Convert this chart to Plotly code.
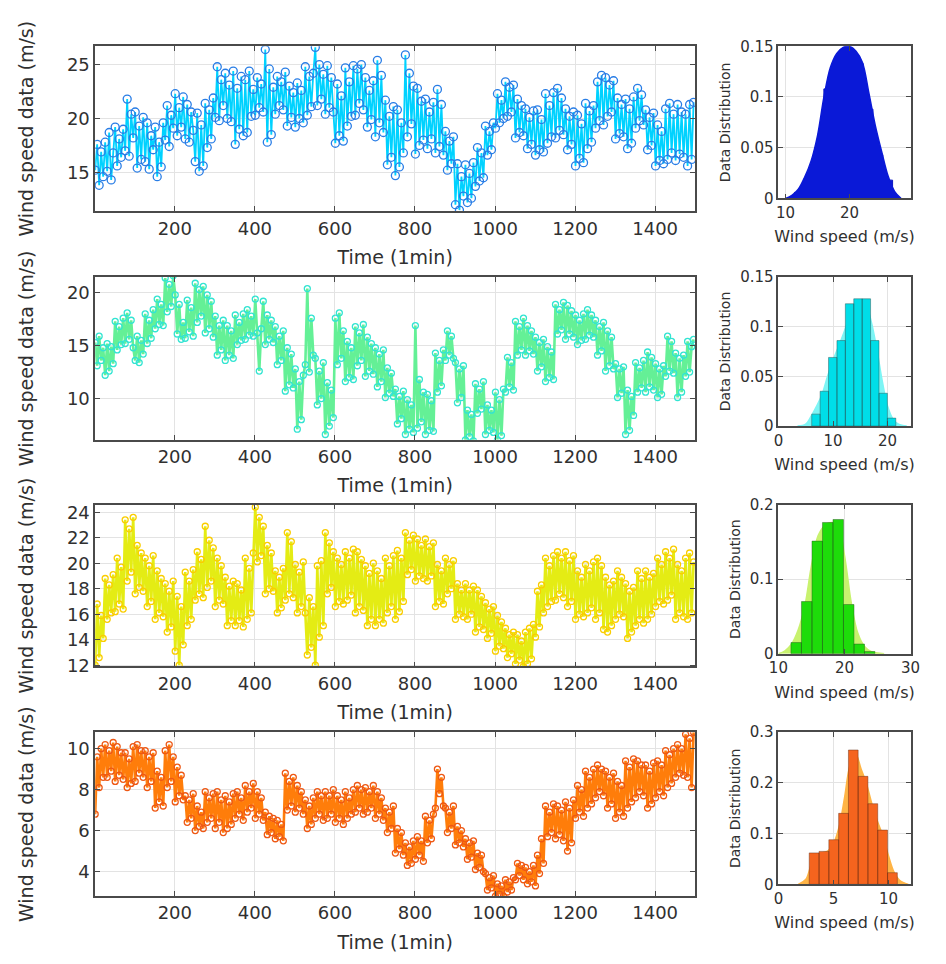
import numpy as np
import plotly.graph_objects as go

# ---------------- wind speed records (one sample every 5 min) ----------------
speed_site1 = [
    15.2, 17.6, 13.8, 16.9, 14.6, 17.8, 15.1, 18.7, 14.3, 16.8,
    19.2, 15.6, 18.1, 16.4, 19.0, 17.0, 21.8, 16.5, 20.4, 18.2,
    20.6, 15.4, 19.3, 16.2, 20.1, 16.0, 19.6, 15.3, 18.4, 17.1,
    19.2, 14.6, 17.8, 15.5, 19.6, 18.0, 21.2, 17.4, 20.3, 19.1,
    22.3, 18.4, 21.0, 19.2, 22.0, 18.1, 21.3, 17.8, 20.6, 18.9,
    16.0, 20.5, 15.1, 19.4, 15.6, 21.4, 17.3, 20.8, 18.1, 21.9,
    20.1, 24.8, 19.8, 23.6, 21.2, 24.2, 20.0, 23.1, 19.7, 24.4,
    17.6, 22.8, 19.0, 23.9, 18.4, 23.6, 18.7, 24.4, 20.2, 22.7,
    20.3, 23.8, 21.0, 23.2, 20.6, 26.4, 17.8, 24.6, 18.5, 22.9,
    20.4, 23.9, 21.2, 23.4, 20.8, 24.3, 19.3, 23.0, 20.1, 22.4,
    19.2, 23.3, 20.0, 22.6, 19.6, 24.8, 20.3, 23.9, 21.1, 24.2,
    26.6, 21.2, 25.0, 21.8, 24.1, 20.4, 24.9, 21.0, 23.8, 20.6,
    17.7, 23.2, 18.4, 22.1, 17.9, 24.7, 19.3, 23.4, 20.2, 24.9,
    20.3, 24.6, 21.4, 25.0, 20.8, 23.8, 19.2, 22.6, 19.9, 23.5,
    18.3, 25.4, 19.6, 24.0, 18.7, 21.7, 15.7, 20.2, 16.4, 21.1,
    14.7, 20.8, 15.5, 19.6, 16.8, 25.9, 18.3, 24.2, 19.5, 23.0,
    16.7, 22.8, 17.5, 21.6, 18.0, 21.8, 17.2, 20.6, 18.1, 21.5,
    16.8, 22.7, 17.4, 21.3, 16.6, 18.8, 15.2, 17.9, 15.8, 18.3,
    12.0, 15.8, 11.5, 14.6, 12.8, 15.7, 12.2, 14.9, 12.6, 15.9,
    13.7, 17.3, 14.2, 16.8, 14.5, 19.3, 16.6, 18.8, 17.1, 19.6,
    19.1, 22.3, 19.6, 21.7, 20.0, 23.4, 20.2, 22.9, 20.6, 23.1,
    18.2, 21.8, 18.7, 21.2, 18.4, 20.9, 17.2, 20.1, 17.6, 20.7,
    16.6, 20.8, 17.1, 19.9, 16.9, 22.3, 17.7, 21.2, 18.3, 22.4,
    18.2, 22.8, 18.9, 21.9, 18.5, 20.9, 17.1, 20.2, 17.6, 20.6,
    15.6, 20.3, 16.3, 19.5, 15.9, 21.4, 17.2, 20.7, 17.8, 21.2,
    19.1, 23.4, 19.8, 24.0, 19.4, 23.8, 20.2, 23.1, 20.6, 23.5,
    18.1, 21.9, 18.6, 21.3, 18.3, 21.8, 17.2, 20.9, 17.7, 22.0,
    19.1, 22.8, 19.8, 22.2, 19.4, 20.8, 17.1, 20.1, 17.5, 20.5,
    15.6, 19.4, 16.1, 18.8, 15.8, 20.9, 16.2, 21.4, 16.8, 20.4,
    16.1, 21.3, 16.7, 20.6, 16.4, 20.4, 15.6, 21.3, 16.2, 21.5,
]

speed_site2 = [
    15.3, 13.1, 15.9, 13.6, 14.8, 12.2, 15.2, 12.6, 14.9, 13.3,
    17.3, 14.6, 16.8, 15.1, 17.6, 15.2, 18.1, 15.6, 17.4, 14.8,
    13.6, 15.9, 13.4, 15.5, 14.2, 18.0, 15.2, 17.4, 15.7, 18.4,
    16.6, 19.4, 17.0, 18.9, 16.9, 21.4, 18.2, 20.8, 18.7, 21.6,
    19.8, 16.1, 18.9, 15.6, 17.2, 15.7, 19.3, 16.3, 18.6, 15.9,
    20.9, 17.2, 20.3, 17.8, 20.6, 16.2, 19.8, 16.6, 19.2, 15.8,
    17.8, 14.1, 16.9, 14.6, 17.4, 13.6, 16.9, 14.1, 16.4, 13.8,
    17.9, 15.1, 17.2, 15.5, 18.0, 15.6, 18.4, 16.0, 17.8, 15.9,
    19.4, 16.2, 12.6, 16.6, 19.2, 15.1, 17.9, 15.6, 17.4, 15.3,
    16.8, 13.2, 15.9, 13.6, 16.4, 10.7, 14.8, 11.3, 14.2, 11.0,
    12.8, 7.1, 11.6, 8.0, 12.2, 13.2, 20.4, 12.5, 17.6, 14.1,
    13.8, 9.4, 12.6, 10.0, 13.4, 6.6, 11.5, 7.4, 10.8, 8.2,
    17.6, 13.2, 18.1, 13.8, 16.4, 11.6, 15.4, 12.0, 14.8, 11.8,
    16.8, 13.1, 16.2, 13.6, 17.0, 12.1, 15.8, 12.6, 15.2, 12.3,
    14.8, 11.1, 14.2, 11.6, 14.6, 10.1, 12.9, 10.5, 12.4, 10.2,
    10.9, 7.6, 10.2, 8.1, 10.7, 6.6, 9.9, 7.1, 9.4, 6.8,
    16.9, 7.2, 11.8, 7.8, 10.6, 6.6, 10.4, 7.0, 9.8, 6.9,
    14.3, 10.6, 13.6, 11.2, 14.6, 13.6, 16.4, 14.1, 15.9, 13.8,
    13.4, 9.6, 12.8, 10.1, 13.1, 6.1, 8.9, 6.4, 8.5, 6.0,
    11.4, 8.6, 10.9, 9.0, 11.6, 6.6, 9.4, 7.0, 8.9, 6.8,
    10.6, 6.1, 9.9, 6.5, 10.9, 10.6, 13.9, 11.1, 13.4, 10.8,
    17.3, 14.1, 16.8, 14.6, 17.6, 14.1, 16.9, 14.5, 16.4, 14.2,
    15.8, 12.6, 15.3, 13.0, 15.6, 11.6, 14.9, 12.0, 14.4, 11.8,
    18.9, 16.1, 18.4, 16.5, 19.1, 15.6, 18.8, 16.1, 18.3, 15.8,
    17.9, 15.1, 17.4, 15.5, 18.0, 15.6, 18.4, 16.0, 17.9, 15.8,
    17.4, 14.1, 16.8, 14.5, 17.2, 12.6, 16.4, 13.1, 15.8, 12.8,
    13.3, 10.1, 12.8, 10.5, 13.0, 6.6, 10.8, 7.0, 10.2, 8.4,
    13.4, 10.6, 12.9, 11.0, 13.6, 10.6, 14.4, 11.1, 13.9, 10.8,
    13.3, 10.1, 12.8, 10.4, 13.1, 12.1, 15.9, 12.6, 15.4, 12.4,
    14.3, 10.1, 13.8, 10.6, 14.1, 12.1, 15.4, 12.5, 14.9, 15.6,
]

speed_site3 = [
    12.0, 16.8, 12.6, 15.9, 14.1, 18.8, 15.6, 18.3, 16.1, 19.1,
    16.2, 20.4, 16.8, 19.7, 16.4, 23.4, 18.6, 22.7, 19.3, 23.6,
    17.6, 21.4, 18.1, 20.8, 17.8, 20.4, 16.6, 19.8, 17.0, 20.6,
    15.6, 19.4, 16.1, 18.8, 15.8, 18.4, 14.6, 17.8, 15.0, 18.6,
    13.1, 17.4, 12.0, 16.6, 13.6, 19.3, 15.1, 18.6, 15.6, 19.5,
    17.1, 20.9, 17.6, 20.3, 17.3, 22.9, 18.1, 21.8, 18.6, 21.2,
    16.6, 20.4, 17.1, 19.8, 16.8, 18.9, 15.1, 18.2, 15.5, 18.6,
    15.1, 18.4, 15.5, 17.9, 15.0, 20.4, 15.6, 19.6, 16.1, 20.8,
    24.4, 20.1, 23.6, 20.6, 22.9, 17.6, 21.4, 18.0, 20.8, 17.8,
    19.4, 16.1, 18.9, 16.5, 19.6, 17.1, 22.4, 17.6, 21.7, 17.3,
    19.9, 16.1, 19.3, 16.6, 20.1, 16.1, 12.8, 17.3, 13.4, 16.6,
    12.0, 19.8, 14.2, 20.2, 15.1, 22.4, 17.6, 21.6, 18.1, 20.9,
    16.6, 20.4, 17.0, 19.9, 16.8, 20.9, 17.1, 20.4, 17.5, 21.1,
    16.1, 20.9, 16.6, 20.3, 16.3, 19.8, 15.1, 19.2, 15.6, 20.0,
    15.1, 19.4, 15.6, 18.8, 15.3, 20.4, 16.1, 19.8, 16.6, 20.6,
    15.6, 21.0, 16.2, 20.4, 17.0, 22.4, 19.1, 21.8, 19.5, 22.2,
    18.6, 21.9, 19.0, 21.4, 18.8, 21.9, 18.6, 21.3, 19.0, 21.6,
    16.6, 19.9, 17.0, 19.4, 16.8, 20.4, 17.6, 19.9, 18.0, 20.2,
    15.6, 18.4, 16.0, 17.9, 15.8, 18.4, 15.6, 17.9, 16.0, 18.2,
    14.6, 17.9, 15.0, 17.4, 14.8, 16.9, 14.1, 16.4, 14.5, 16.6,
    13.1, 15.9, 13.5, 15.4, 13.3, 14.9, 12.6, 14.4, 12.9, 14.6,
    12.1, 14.4, 12.4, 13.9, 11.9, 14.6, 12.1, 14.9, 12.5, 15.2,
    14.2, 17.8, 15.0, 18.3, 16.1, 20.4, 16.6, 19.8, 17.0, 20.6,
    17.1, 20.9, 17.6, 20.4, 17.3, 20.9, 16.6, 20.2, 17.0, 20.6,
    15.6, 19.4, 16.0, 18.9, 15.8, 19.9, 16.1, 19.4, 16.5, 20.1,
    15.6, 20.4, 16.1, 19.8, 14.8, 18.9, 14.6, 18.3, 15.1, 18.6,
    15.6, 19.4, 16.0, 18.9, 15.8, 18.4, 14.1, 17.8, 14.6, 18.1,
    15.1, 19.4, 15.6, 18.8, 15.3, 19.4, 15.6, 18.9, 16.0, 19.2,
    16.6, 20.4, 17.0, 19.9, 16.8, 20.9, 17.1, 20.4, 17.5, 21.1,
    15.6, 19.9, 16.1, 19.4, 15.8, 20.4, 15.6, 20.8, 16.1, 20.1,
]

speed_site4 = [
    6.8, 9.6, 8.1, 10.0, 8.6, 10.2, 8.6, 9.9, 8.9, 10.3,
    8.4, 10.1, 8.7, 9.8, 8.5, 9.8, 8.1, 9.5, 8.3, 10.1,
    8.4, 10.2, 8.8, 9.9, 8.6, 9.9, 8.1, 9.6, 8.4, 9.8,
    7.1, 8.9, 7.4, 8.6, 7.2, 9.9, 8.1, 10.2, 8.4, 9.6,
    7.4, 9.1, 7.7, 8.7, 7.5, 7.7, 6.4, 7.5, 6.6, 7.8,
    6.0, 7.2, 6.2, 6.9, 6.1, 7.9, 6.4, 7.6, 6.6, 7.8,
    6.1, 7.9, 6.4, 7.5, 5.9, 7.7, 6.1, 7.4, 6.3, 7.8,
    6.6, 7.9, 6.8, 7.6, 6.5, 8.2, 6.9, 7.9, 7.1, 8.3,
    6.6, 7.9, 6.8, 7.6, 6.5, 6.9, 5.8, 6.7, 5.9, 6.6,
    5.6, 6.5, 5.7, 6.3, 5.5, 8.8, 7.0, 8.4, 7.2, 8.6,
    6.9, 8.2, 7.1, 7.9, 6.8, 7.5, 6.1, 7.2, 6.3, 7.6,
    6.6, 7.9, 6.8, 7.7, 6.5, 7.9, 6.6, 7.7, 6.8, 8.0,
    6.4, 7.7, 6.6, 7.5, 6.3, 7.9, 6.6, 7.6, 6.8, 8.0,
    6.9, 8.2, 7.1, 8.0, 6.8, 8.1, 6.9, 7.9, 7.1, 8.2,
    6.6, 7.9, 6.8, 7.6, 6.5, 7.1, 5.9, 6.9, 6.1, 7.2,
    4.9, 6.1, 5.1, 5.9, 4.8, 5.4, 4.3, 5.2, 4.4, 5.5,
    4.6, 5.7, 4.8, 5.5, 4.5, 6.7, 5.4, 6.5, 5.6, 6.8,
    7.1, 9.0, 7.8, 8.6, 7.2, 7.1, 5.9, 6.9, 6.1, 7.2,
    5.3, 6.2, 5.4, 6.0, 5.2, 5.6, 4.6, 5.4, 4.7, 5.5,
    4.1, 4.9, 4.2, 4.8, 4.0, 3.9, 3.1, 3.7, 3.2, 3.8,
    2.8, 3.4, 2.9, 3.3, 2.8, 3.6, 3.0, 3.5, 3.1, 3.7,
    3.6, 4.4, 3.8, 4.3, 3.6, 4.2, 3.4, 4.0, 3.5, 4.3,
    3.3, 4.8, 3.9, 5.6, 4.4, 7.2, 5.7, 6.9, 5.9, 7.3,
    5.6, 7.2, 5.8, 7.0, 5.5, 7.4, 5.0, 7.1, 5.4, 7.5,
    6.6, 8.2, 6.9, 8.0, 6.7, 8.9, 7.1, 8.6, 7.3, 9.0,
    7.6, 9.2, 7.9, 9.0, 7.7, 8.9, 7.1, 8.6, 7.3, 8.8,
    6.6, 8.4, 6.9, 8.2, 6.7, 9.4, 7.1, 9.1, 7.4, 9.5,
    7.6, 9.4, 7.9, 9.2, 7.7, 9.2, 7.1, 8.9, 7.3, 9.3,
    7.6, 9.4, 7.9, 9.2, 7.7, 9.9, 8.1, 9.7, 8.3, 10.0,
    8.6, 10.2, 8.8, 10.0, 8.7, 10.7, 8.6, 10.5, 8.1, 10.8,
]

# ---------------- histogram bins (pdf normalisation) ----------------
hist1_edges = [11.4, 12.93, 14.46, 15.99, 17.52, 19.05, 20.58, 22.11, 23.64, 25.17, 26.7]
hist1_pdf = [0.006, 0.020, 0.047, 0.108, 0.135, 0.145, 0.133, 0.088, 0.043, 0.018]
hist2_edges = [6.1, 7.64, 9.18, 10.72, 12.26, 13.8, 15.34, 16.88, 18.42, 19.96, 21.5]
hist2_pdf = [0.012, 0.035, 0.069, 0.086, 0.123, 0.128, 0.128, 0.086, 0.033, 0.008]
hist3_edges = [11.9, 13.49, 15.08, 16.67, 18.26, 19.85, 21.44, 23.03, 24.6]
hist3_pdf = [0.015, 0.070, 0.151, 0.176, 0.180, 0.066, 0.013, 0.003]
hist4_edges = [2.8, 3.69, 4.58, 5.47, 6.36, 7.24, 8.13, 9.02, 9.91, 10.8]
hist4_pdf = [0.062, 0.065, 0.088, 0.140, 0.265, 0.213, 0.159, 0.107, 0.023]

# fitted density outlines
fit1_x = [10, 11, 12, 13, 14, 15, 16, 17, 18, 19, 20, 21, 22, 23, 24, 25, 26, 27, 28]
fit1_y = [0.0, 0.003, 0.009, 0.021, 0.037, 0.062, 0.100, 0.129, 0.143, 0.149, 0.150,
          0.145, 0.134, 0.104, 0.072, 0.046, 0.022, 0.007, 0.0]
fit2_x = [3.5, 5, 6, 7, 8, 9, 10, 11, 12, 13, 14, 15, 16, 17, 18, 19, 20, 21, 22, 23.5]
fit2_y = [0.0, 0.002, 0.010, 0.020, 0.032, 0.050, 0.066, 0.080, 0.094, 0.110,
          0.122, 0.125, 0.122, 0.105, 0.078, 0.046, 0.020, 0.007, 0.002, 0.0]
fit3_x = [10, 11, 12, 13, 14, 15, 16, 17, 18, 19, 20, 21, 22, 23, 24, 26]
fit3_y = [0.0, 0.004, 0.013, 0.032, 0.064, 0.118, 0.158, 0.172, 0.176, 0.172,
          0.132, 0.070, 0.028, 0.010, 0.003, 0.0]
fit4_x = [1.8, 2.5, 3, 3.5, 4, 4.5, 5, 5.5, 6, 6.5, 7, 7.5, 8, 8.5, 9, 9.5, 10, 10.5, 11, 11.8]
fit4_y = [0.0, 0.010, 0.040, 0.058, 0.062, 0.066, 0.080, 0.112, 0.170, 0.235,
          0.258, 0.228, 0.198, 0.158, 0.124, 0.095, 0.056, 0.024, 0.008, 0.0]

series = [
    dict(y=speed_site1, line="rgb(0,210,255)", mark="rgb(40,125,230)",
         lw=1.8, ms=8, yr=[11.4, 26.7], yt=[15, 20, 25],
         edges=hist1_edges, pdf=hist1_pdf, fx=fit1_x, fy=fit1_y,
         bar="rgb(10,25,215)", barline="rgb(10,22,190)", fill="rgb(10,25,215)",
         fill_on_top=True, hxr=[8.9, 29.5], hxt=[10, 20],
         hyr=[0, 0.15], hyt=[0, 0.05, 0.1, 0.15], hyl=["0", "0.05", "0.1", "0.15"]),
    dict(y=speed_site2, line="rgb(100,240,150)", mark="rgb(50,228,210)",
         lw=2.6, ms=6, yr=[6.1, 21.5], yt=[10, 15, 20],
         edges=hist2_edges, pdf=hist2_pdf, fx=fit2_x, fy=fit2_y,
         bar="rgb(0,222,232)", barline="rgba(40,80,80,0.45)", fill="rgb(125,245,245)",
         fill_on_top=False, hxr=[0, 24.2], hxt=[0, 10, 20],
         hyr=[0, 0.15], hyt=[0, 0.05, 0.1, 0.15], hyl=["0", "0.05", "0.1", "0.15"]),
    dict(y=speed_site3, line="rgb(228,236,20)", mark="rgb(250,205,0)",
         lw=2.6, ms=6, yr=[11.9, 24.6], yt=[12, 14, 16, 18, 20, 22, 24],
         edges=hist3_edges, pdf=hist3_pdf, fx=fit3_x, fy=fit3_y,
         bar="rgb(30,220,10)", barline="rgba(40,90,30,0.45)", fill="rgb(200,242,110)",
         fill_on_top=False, hxr=[10, 30], hxt=[10, 20, 30],
         hyr=[0, 0.2], hyt=[0, 0.1, 0.2], hyl=["0", "0.1", "0.2"]),
    dict(y=speed_site4, line="rgb(255,125,10)", mark="rgb(238,88,20)",
         lw=2.6, ms=6, yr=[2.8, 10.8], yt=[4, 6, 8, 10],
         edges=hist4_edges, pdf=hist4_pdf, fx=fit4_x, fy=fit4_y,
         bar="rgb(245,100,30)", barline="rgba(100,45,20,0.45)", fill="rgb(255,180,70)",
         fill_on_top=False, hxr=[0, 12], hxt=[0, 5, 10],
         hyr=[0, 0.3], hyt=[0, 0.1, 0.2, 0.3], hyl=["0", "0.1", "0.2", "0.3"]),
]

W, H = 946, 964
main_x = [87 / W, 700 / W]
hist_x = [785 / W, 920 / W]
main_rows = [(38, 206), (273, 439), (505, 670), (737, 904)]
hist_rows = [(38, 193), (273, 425), (505, 657), (737, 892)]

FONT = "DejaVu Sans"
TXT = "#303030"
AX = "#4a4a4a"
GRID = "#e3e3e3"


def bar_outline(edges, heights):
    """Histogram bars as closed polygons, separated by None."""
    xs, ys = [], []
    for left, right, h in zip(edges[:-1], edges[1:], heights):
        xs += [left, left, right, right, left, None]
        ys += [0, h, h, 0, 0, None]
    return xs, ys


fig = go.Figure()
layout = dict(
    width=W, height=H, margin=dict(l=0, r=0, t=0, b=0),
    paper_bgcolor="white", plot_bgcolor="white", showlegend=False,
    font=dict(family=FONT, color=TXT),
)

for i, s in enumerate(series):
    k_main = 2 * i + 1
    k_hist = 2 * i + 2
    xa_m = "x" if k_main == 1 else f"x{k_main}"
    ya_m = "y" if k_main == 1 else f"y{k_main}"
    xa_h, ya_h = f"x{k_hist}", f"y{k_hist}"

    t = 1 + 5 * np.arange(len(s["y"]))
    fig.add_trace(go.Scatter(
        x=t, y=s["y"], mode="lines+markers", xaxis=xa_m, yaxis=ya_m,
        line=dict(color=s["line"], width=s["lw"]),
        marker=dict(symbol="circle-open", size=s["ms"], color=s["mark"], line=dict(width=1.3)),
    ))

    bx, by = bar_outline(s["edges"], s["pdf"])
    fill_tr = go.Scatter(
        x=s["fx"], y=s["fy"], mode="lines", fill="tozeroy", xaxis=xa_h, yaxis=ya_h,
        line=dict(color=s["fill"], width=1.5, shape="spline"), fillcolor=s["fill"],
    )
    bar_tr = go.Scatter(
        x=bx, y=by, mode="lines", fill="toself", xaxis=xa_h, yaxis=ya_h,
        fillcolor=s["bar"], line=dict(color=s["barline"], width=1),
    )
    if s["fill_on_top"]:
        fig.add_trace(bar_tr)
        fig.add_trace(fill_tr)
    else:
        fig.add_trace(fill_tr)
        fig.add_trace(bar_tr)

    top, bot = main_rows[i]
    htop, hbot = hist_rows[i]
    common = dict(showline=True, mirror="ticks", linecolor=AX, linewidth=1.5,
                  ticks="inside", ticklen=5, tickcolor=AX, showgrid=True,
                  gridcolor=GRID, gridwidth=1, zeroline=False)

    layout["xaxis" if k_main == 1 else f"xaxis{k_main}"] = dict(
        domain=main_x, anchor=ya_m, range=[1, 1500],
        tickvals=[200, 400, 600, 800, 1000, 1200, 1400],
        tickfont=dict(size=18, family=FONT, color=TXT),
        title=dict(text="Time (1min)", font=dict(size=19, family=FONT, color=TXT), standoff=13),
        **common)
    layout["yaxis" if k_main == 1 else f"yaxis{k_main}"] = dict(
        domain=[(H - bot) / H, (H - top) / H], anchor=xa_m, range=s["yr"],
        tickvals=s["yt"], tickfont=dict(size=18, family=FONT, color=TXT),
        title=dict(text="Wind speed data (m/s)", font=dict(size=19, family=FONT, color=TXT), standoff=28),
        **common)
    layout[f"xaxis{k_hist}"] = dict(
        domain=hist_x, anchor=ya_h, range=s["hxr"], tickvals=s["hxt"],
        tickfont=dict(size=15, family=FONT, color=TXT),
        title=dict(text="Wind speed (m/s)", font=dict(size=16, family=FONT, color=TXT), standoff=10),
        **common)
    layout[f"yaxis{k_hist}"] = dict(
        domain=[(H - hbot) / H, (H - htop) / H], anchor=xa_h, range=s["hyr"],
        tickvals=s["hyt"], ticktext=s["hyl"],
        tickfont=dict(size=15, family=FONT, color=TXT),
        title=dict(text="Data Distribution", font=dict(size=14, family=FONT, color=TXT), standoff=6),
        **common)

fig.update_layout(**layout)
fig.write_html("out.html")
